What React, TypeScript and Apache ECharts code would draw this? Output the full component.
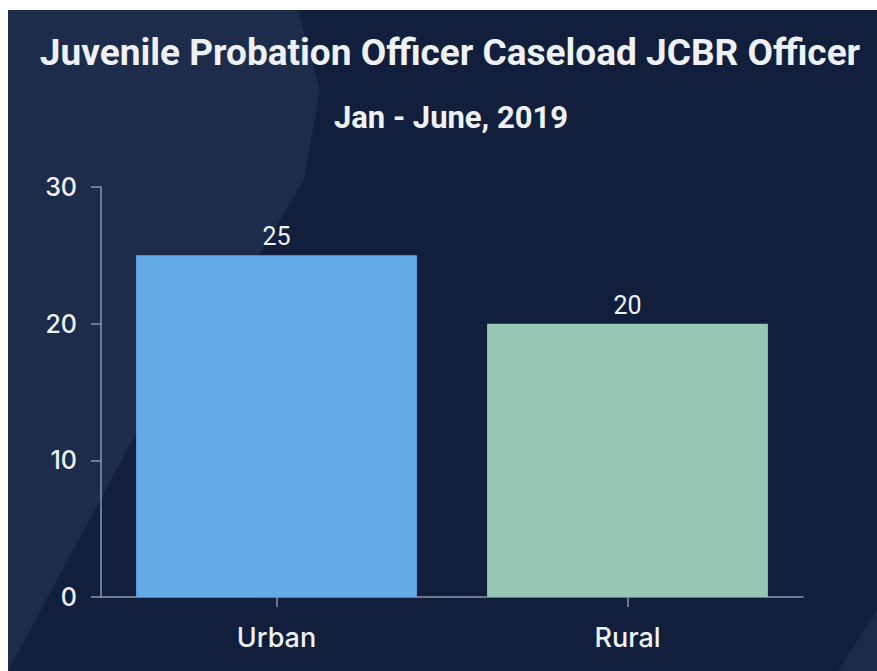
import React, { useEffect, useRef } from "react";
import * as echarts from "echarts";

const TITLE = "Juvenile Probation Officer Caseload JCBR Officer";
const SUBTITLE = "Jan - June, 2019";
const CATEGORIES = ["Urban", "Rural"];
const CASELOAD = [25, 20];
const Y_MIN = 0;
const Y_MAX = 30;
const Y_STEP = 10;

const BAR_COLORS = ["#64aae6", "#97c6b4"];
const TEXT = "#eef1f7";
const AXIS = "#8c95a9";

export default function App() {
  const ref = useRef<HTMLDivElement>(null);
  useEffect(() => {
    document.body.style.overflow = "hidden";
    const chart = echarts.init(ref.current!, undefined, { renderer: "svg" });
    chart.setOption({
      animation: false,
      backgroundColor: "#111f3c",
      graphic: [
        {
          type: "polygon",
          z: -10,
          silent: true,
          shape: {
            points: [
              [0, 0],
              [290, 0],
              [312, 80],
              [296, 170],
              [230, 280],
              [130, 420],
              [0, 661],
            ],
          },
          style: { fill: "#1d2c4b" },
        },
        {
          type: "polygon",
          z: -9,
          silent: true,
          shape: {
            points: [
              [869, 600],
              [869, 661],
              [830, 661],
            ],
          },
          style: { fill: "#1a2a48" },
        },
        {
          type: "text",
          x: 442,
          y: 42,
          style: {
            text: TITLE,
            fill: TEXT,
            font: "bold 37px Roboto",
            align: "center",
            verticalAlign: "middle",
          },
        },
        {
          type: "text",
          x: 443,
          y: 107,
          style: {
            text: SUBTITLE,
            fill: TEXT,
            font: "bold 31px Roboto",
            align: "center",
            verticalAlign: "middle",
          },
        },
      ],
      grid: { left: 93, right: 74, top: 177, bottom: 74, containLabel: false },
      xAxis: {
        type: "category",
        data: CATEGORIES,
        axisLine: { show: true, lineStyle: { color: AXIS, width: 1.5 } },
        axisTick: { show: true, alignWithLabel: true, length: 10, lineStyle: { color: AXIS, width: 1.5 } },
        axisLabel: {
          color: TEXT,
          fontSize: 27,
          fontFamily: "Inter",
          fontWeight: 500,
          margin: 27,
        },
      },
      yAxis: {
        type: "value",
        min: Y_MIN,
        max: Y_MAX,
        interval: Y_STEP,
        axisLine: { show: true, lineStyle: { color: AXIS, width: 1.5 } },
        axisTick: { show: true, length: 10, lineStyle: { color: AXIS, width: 1.5 } },
        splitLine: { show: false },
        axisLabel: {
          color: TEXT,
          fontSize: 25,
          fontFamily: "Inter",
          fontWeight: 500,
          margin: 24,
        },
      },
      series: [
        {
          type: "bar",
          barCategoryGap: "20%",
          data: CASELOAD.map((v, i) => ({ value: v, itemStyle: { color: BAR_COLORS[i] } })),
          label: {
            show: true,
            position: "top",
            distance: 6,
            color: TEXT,
            fontSize: 25,
            fontFamily: "Roboto",
          },
        },
      ],
    });
    return () => chart.dispose();
  }, []);
  return (
    <div
      ref={ref}
      style={{ position: "absolute", left: 8, top: 10, width: 869, height: 661 }}
    />
  );
}
